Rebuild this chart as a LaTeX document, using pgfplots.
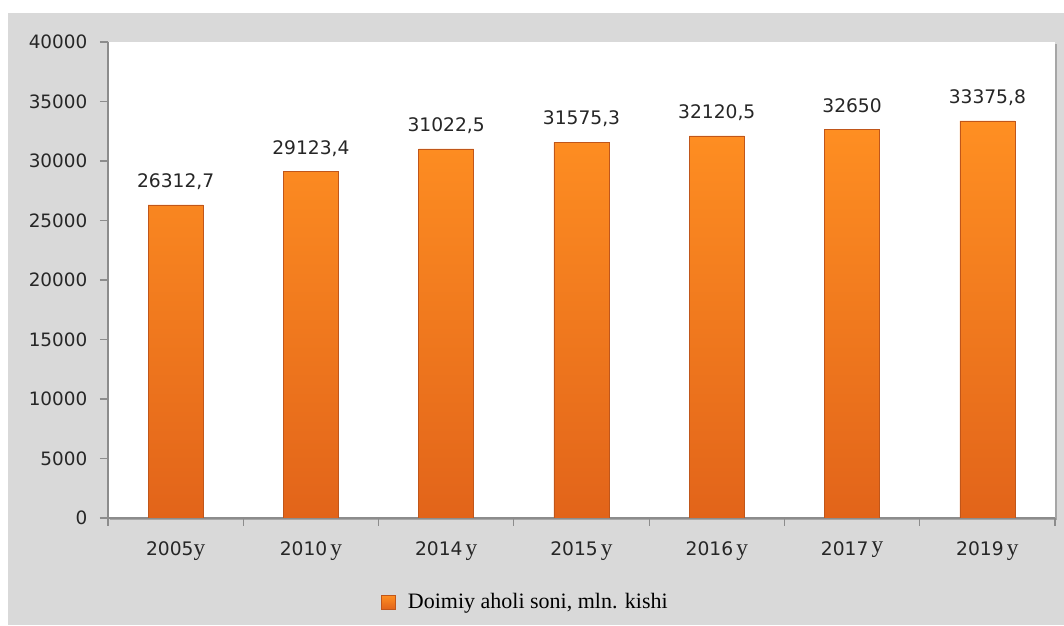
\documentclass[border=0pt]{standalone}
\usepackage{pgfplots}
\pgfplotsset{compat=1.18}
\usepackage{fontspec}
\setmainfont{DejaVu Sans}
\newfontfamily\serif{Liberation Serif}
\definecolor{bg}{HTML}{D9D9D9}
\definecolor{bartop}{HTML}{FF8F22}
\definecolor{barbot}{HTML}{E2641A}
\definecolor{baredge}{HTML}{C0561A}
\definecolor{axisgray}{HTML}{8C8C8C}
\definecolor{txt}{HTML}{262626}
\newcommand{\yy}{{\serif\fontsize{17.5}{17}\selectfont y}}
\begin{document}
\begin{tikzpicture}
\path[use as bounding box, fill=white] (0,0) rectangle (798pt,468.75pt);
\fill[bg] (6pt,0) rectangle (798pt,459pt);
\fill[black!35] (82.5pt,78.75pt) rectangle (792.75pt,435.75pt);
\begin{axis}[
  at={(81pt,80.25pt)}, anchor=south west,
  scale only axis, width=710.25pt, height=357pt,
  xmin=-0.5, xmax=6.5, ymin=0, ymax=40000,
  axis background/.style={fill=white},
  axis lines*=left,
  axis line style={axisgray, line width=0.8pt},
  tick align=outside,
  major tick length=6pt, minor tick length=6pt,
  tick style={axisgray, line width=0.8pt},
  /pgf/number format/assume math mode=true,
  ytick={0,5000,...,40000},
  scaled y ticks=false,
  yticklabel style={/pgf/number format/1000 sep={}, font=\fontsize{13.8}{16}\selectfont, text=txt, xshift=-6pt},
  xtick={0,...,6},
  xticklabels={2005\yy, 2010\,\yy, 2014\,\yy, 2015\,\yy, 2016\,\yy, 2017\,\raisebox{2pt}{\yy}, 2019\,\yy},
  xticklabel style={font=\fontsize{14}{16}\selectfont, text=txt, yshift=-8pt},
  minor xtick={-0.5,0.5,...,6.5},
  every major x tick/.style={draw=none},
  ybar, bar width=41.25pt,
  nodes near coords={\pgfmathprintnumber[fixed,precision=1,use comma,1000 sep={}]{\pgfplotspointmeta}},
  every node near coord/.append style={anchor=base, yshift=13pt, inner sep=0pt, font=\fontsize{14}{16}\selectfont, text=txt},
  legend style={at={(axis description cs:0.4409,-0.1765)}, anchor=center, draw=none, fill=none, font=\serif\fontsize{16.5}{18}\selectfont, text=black, /tikz/every even column/.style={column sep=0pt}},
  legend image code/.code={\draw[baredge, top color=bartop, bottom color=barbot] (0pt,-5.25pt) rectangle (10.5pt,5.25pt);\path (18pt,0);},
]
\addplot[draw=baredge, line width=0.4pt, top color=bartop, bottom color=barbot,
  legend image code/.code={\draw[baredge, top color=bartop, bottom color=barbot] (0pt,-5.25pt) rectangle (10.5pt,5.25pt);\path (18pt,0);}]
  coordinates {(0,26312.7) (1,29123.4) (2,31022.5) (3,31575.3) (4,32120.5) (5,32650) (6,33375.8)};
\addlegendentry{Doimiy aholi soni, mln. kishi}
\end{axis}
\end{tikzpicture}
\end{document}
